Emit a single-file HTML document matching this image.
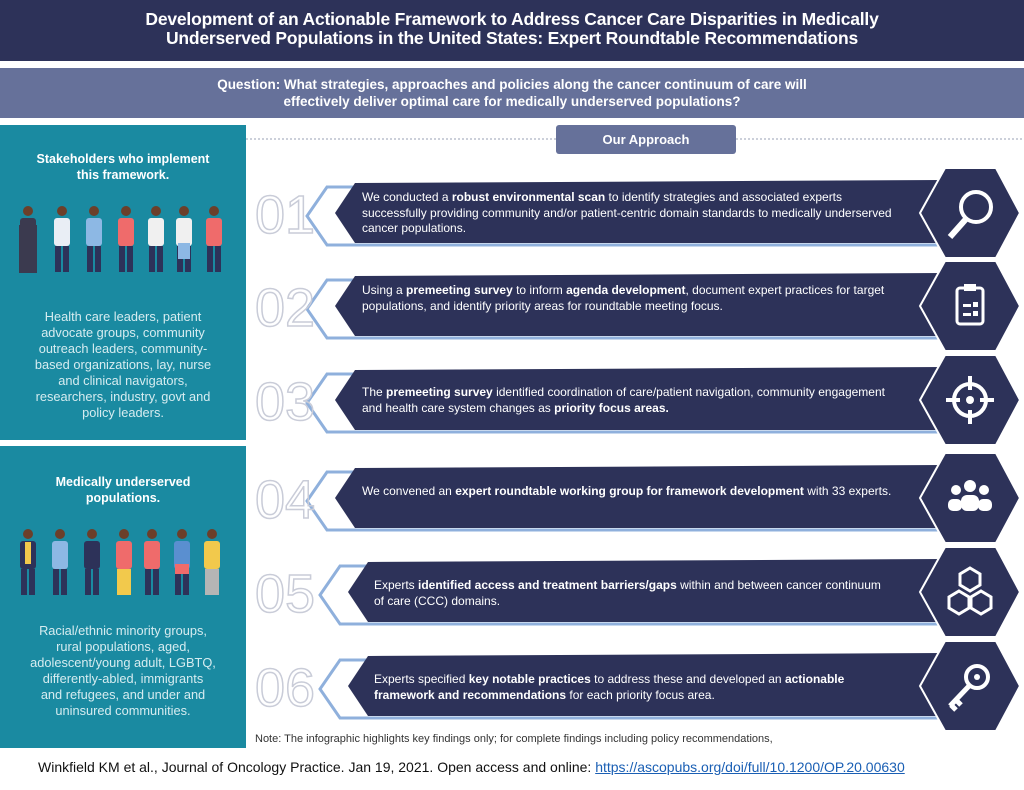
<!DOCTYPE html>
<html><head><meta charset="utf-8"><style>
body{margin:0;width:1024px;height:790px;position:relative;background:#fff;font-family:"Liberation Sans",sans-serif;overflow:hidden}
.abs{position:absolute}
.hdr{left:0;top:0;width:1024px;height:61px;background:#2d3259;color:#fff;font-weight:bold;font-size:17.5px;text-align:center;line-height:19px;padding-top:10px;box-sizing:border-box;letter-spacing:-0.2px}
.q{left:0;top:68px;width:1024px;height:50px;background:#66719a;color:#fff;font-weight:bold;font-size:13.5px;text-align:center;line-height:17px;padding-top:8px;box-sizing:border-box}
.panel{left:0;width:246px;background:#1a8aa1;color:#fff;text-align:center}
.ph{font-weight:bold;font-size:12.5px;line-height:16px}
.pt{font-size:12.8px;line-height:16px;color:#d6ecf0}
.bt{left:362px;width:540px;color:#fff;font-size:12px;line-height:15.5px}
.bt b{font-weight:bold}
</style></head><body>
<div class="abs hdr">Development of an Actionable Framework to Address Cancer Care Disparities in Medically<br>Underserved Populations in the United States: Expert Roundtable Recommendations</div>
<div class="abs q">Question: What strategies, approaches and policies along the cancer continuum of care will<br>effectively deliver optimal care for medically underserved populations?</div>

<div class="abs panel" style="top:125px;height:315px">
<div class="ph" style="margin-top:26px">Stakeholders who implement<br>this framework.</div>
<div class="pt" style="margin-top:126px">Health care leaders, patient<br>advocate groups, community<br>outreach leaders, community-<br>based organizations, lay, nurse<br>and clinical navigators,<br>researchers, industry, govt and<br>policy leaders.</div>
</div>
<div class="abs panel" style="top:446px;height:302px">
<div class="ph" style="margin-top:28px">Medically underserved<br>populations.</div>
<div class="pt" style="margin-top:117px">Racial/ethnic minority groups,<br>rural populations, aged,<br>adolescent/young adult, LGBTQ,<br>differently-abled, immigrants<br>and refugees, and under and<br>uninsured communities.</div>
</div>

<svg class="abs" style="left:0;top:0" width="1024" height="790">
<defs>
<g id="p"><circle cx="0" cy="6" r="5" fill="#6b3f2a"/><rect x="-8" y="13" width="16" height="28" rx="3"/><rect x="-7" y="41" width="6" height="26" fill="#2d3259"/><rect x="1" y="41" width="6" height="26" fill="#2d3259"/></g>
</defs>
<g transform="translate(28,205)"><use href="#p" fill="#3b3a4f"/><rect x="-9" y="20" width="18" height="48" fill="#3b3a4f"/></g>
<g transform="translate(62,205)"><use href="#p" fill="#e9eef5"/></g>
<g transform="translate(94,205)"><use href="#p" fill="#8db8e4"/></g>
<g transform="translate(126,205)"><use href="#p" fill="#ef6b6b"/></g>
<g transform="translate(156,205)"><use href="#p" fill="#f0f0f0"/></g>
<g transform="translate(184,205)"><use href="#p" fill="#f0f0f0"/><rect x="-6" y="38" width="12" height="16" fill="#8db8e4"/></g>
<g transform="translate(214,205)"><use href="#p" fill="#ef6b6b"/></g>
<g transform="translate(28,528)"><use href="#p" fill="#2d3259"/><rect x="-3" y="14" width="6" height="22" fill="#f2c94c"/></g>
<g transform="translate(60,528)"><use href="#p" fill="#8db8e4"/></g>
<g transform="translate(92,528)"><use href="#p" fill="#2d3259"/></g>
<g transform="translate(124,528)"><use href="#p" fill="#ef6b6b"/><rect x="-7" y="41" width="14" height="26" fill="#f2c94c"/></g>
<g transform="translate(152,528)"><use href="#p" fill="#ef6b6b"/></g>
<g transform="translate(182,528)"><use href="#p" fill="#5a8fd0"/><rect x="-7" y="36" width="14" height="10" fill="#ef6b6b"/></g>
<g transform="translate(212,528)"><use href="#p" fill="#f2c94c"/><rect x="-7" y="41" width="14" height="26" fill="#b5b5b5"/></g>

<line x1="246" y1="139" x2="556" y2="139" stroke="#9aa0b5" stroke-dasharray="2,2"/>
<line x1="736" y1="139" x2="1024" y2="139" stroke="#9aa0b5" stroke-dasharray="2,2"/>
<rect x="556" y="125" width="180" height="29" rx="3" fill="#66719a"/>
<text x="646" y="144" fill="#fff" font-weight="bold" font-size="13" text-anchor="middle">Our Approach</text>
</svg>
<svg class="abs" style="left:0;top:0" width="1024" height="790" id="s2"></svg>

<div class="abs bt" style="top:190px">We conducted a <b>robust environmental scan</b> to identify strategies and associated experts successfully providing community and/or patient-centric domain standards to medically underserved cancer populations.</div>
<div class="abs bt" style="top:283px">Using a <b>premeeting survey</b> to inform <b>agenda development</b>, document expert practices for target populations, and identify priority areas for roundtable meeting focus.</div>
<div class="abs bt" style="top:385px">The <b>premeeting survey</b> identified coordination of care/patient navigation, community engagement and health care system changes as <b>priority focus areas.</b></div>
<div class="abs bt" style="top:484px">We convened an <b>expert roundtable working group for framework development</b> with 33 experts.</div>
<div class="abs bt" style="top:578px;left:374px;width:520px">Experts <b>identified access and treatment barriers/gaps</b> within and between cancer continuum of care (CCC) domains.</div>
<div class="abs bt" style="top:672px;left:374px;width:520px">Experts specified <b>key notable practices</b> to address these and developed an <b>actionable framework and recommendations</b> for each priority focus area.</div>

<div class="abs" style="left:255px;top:733px;font-size:11px;color:#333">Note: The infographic highlights key findings only; for complete findings including policy recommendations,</div>
<div class="abs" style="left:0;top:749px;width:1024px;height:41px;background:#fff"></div>
<div class="abs" style="left:38px;top:759px;font-size:14px;color:#111">Winkfield KM et al., Journal of Oncology Practice. Jan 19, 2021. Open access and online: <span style="color:#1a5fb4;text-decoration:underline">https://ascopubs.org/doi/full/10.1200/OP.20.00630</span></div>

<script>
var s=document.getElementById('s2'),h='';
var ys=[213,306,400,498,592,686];
var nums=['01','02','03','04','05','06'];
ys.forEach(function(y,i){
 var L=i>=4?348:335;
 h+='<polyline points="945,'+(y-26)+' '+(L-8)+','+(y-26)+' '+(L-28)+','+(y+3)+' '+(L-8)+','+(y+32)+' 945,'+(y+32)+'" fill="none" stroke="#8fb0dc" stroke-width="3"/>';
 h+='<polygon points="'+(L+20)+','+(y-30)+' 945,'+(y-33)+' 945,'+(y+30)+' '+(L+20)+','+(y+30)+' '+L+','+y+'" fill="#2d3259"/>';
 h+='<text x="255" y="'+(y+20)+'" font-size="54" fill="none" stroke="#c9ccd8" stroke-width="1.5" font-family="Liberation Sans">'+nums[i]+'</text>';
 h+='<polygon points="920,'+y+' 945,'+(y-45)+' 996,'+(y-45)+' 1020,'+y+' 996,'+(y+45)+' 945,'+(y+45)+'" fill="#2d3259" stroke="#fff" stroke-width="2"/>';
 var c=970;
 if(i==0)h+='<circle cx="'+(c+6)+'" cy="'+(y-6)+'" r="15" fill="none" stroke="#fff" stroke-width="4"/><line x1="'+(c-4)+'" y1="'+(y+6)+'" x2="'+(c-20)+'" y2="'+(y+24)+'" stroke="#fff" stroke-width="6"/>';
 if(i==1)h+='<rect x="'+(c-13)+'" y="'+(y-18)+'" width="26" height="36" rx="3" fill="none" stroke="#fff" stroke-width="3"/><rect x="'+(c-6)+'" y="'+(y-22)+'" width="12" height="7" fill="#fff"/><rect x="'+(c-7)+'" y="'+(y-2)+'" width="8" height="3" fill="#fff"/><rect x="'+(c+3)+'" y="'+(y-4)+'" width="5" height="5" fill="#fff"/><rect x="'+(c-7)+'" y="'+(y+7)+'" width="8" height="3" fill="#fff"/><rect x="'+(c+3)+'" y="'+(y+5)+'" width="5" height="5" fill="#fff"/>';
 if(i==2)h+='<circle cx="'+c+'" cy="'+y+'" r="16" fill="none" stroke="#fff" stroke-width="4"/><circle cx="'+c+'" cy="'+y+'" r="4" fill="#fff"/><path d="M'+c+' '+(y-24)+'V'+(y-10)+'M'+c+' '+(y+10)+'V'+(y+24)+'M'+(c-24)+' '+y+'H'+(c-10)+'M'+(c+10)+' '+y+'H'+(c+24)+'" stroke="#fff" stroke-width="4"/>';
 if(i==3)h+='<circle cx="'+c+'" cy="'+(y-12)+'" r="6" fill="#fff"/><circle cx="'+(c-14)+'" cy="'+(y-8)+'" r="5" fill="#fff"/><circle cx="'+(c+14)+'" cy="'+(y-8)+'" r="5" fill="#fff"/><rect x="'+(c-9)+'" y="'+(y-3)+'" width="18" height="16" rx="6" fill="#fff"/><rect x="'+(c-22)+'" y="'+(y+1)+'" width="14" height="12" rx="5" fill="#fff"/><rect x="'+(c+8)+'" y="'+(y+1)+'" width="14" height="12" rx="5" fill="#fff"/>';
 if(i==4)h+='<path d="M'+c+' '+(y-24)+'l10 6v11l-10 6-10-6v-11zM'+(c-11)+' '+(y-1)+'l10 6v11l-10 6-10-6v-11zM'+(c+11)+' '+(y-1)+'l10 6v11l-10 6-10-6v-11z" fill="none" stroke="#fff" stroke-width="3"/>';
 if(i==5)h+='<circle cx="'+(c+7)+'" cy="'+(y-9)+'" r="11" fill="none" stroke="#fff" stroke-width="4"/><circle cx="'+(c+7)+'" cy="'+(y-9)+'" r="3" fill="#fff"/><path d="M'+(c-1)+' '+(y)+'L'+(c-20)+' '+(y+20)+'M'+(c-14)+' '+(y+14)+'l5 5M'+(c-19)+' '+(y+19)+'l5 5" stroke="#fff" stroke-width="5"/>';
});
s.innerHTML=h;
</script>
</body></html>
